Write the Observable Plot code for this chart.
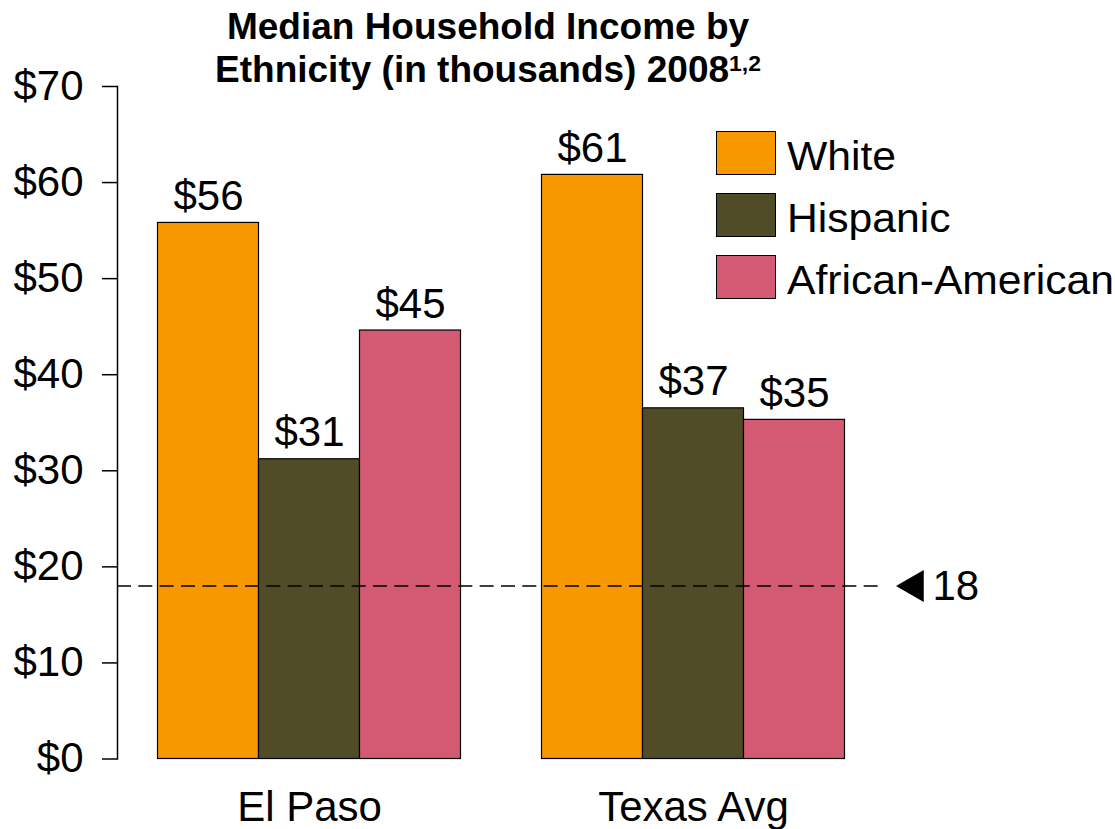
<!DOCTYPE html>
<html>
<head>
<meta charset="utf-8">
<script src="https://cdn.jsdelivr.net/npm/d3@7"></script>
<script src="https://cdn.jsdelivr.net/npm/@observablehq/plot@0.6"></script>
<style>
  html, body { margin: 0; padding: 0; background: #fff; }
  #wrap { position: relative; width: 1115px; height: 829px; font-family: "Liberation Sans", Arial, sans-serif; color: #000; }
  #title { position: absolute; top: 5px; left: 488px; transform: translateX(-50%); white-space: nowrap;
           font-weight: bold; font-size: 37px; line-height: 43px; text-align: center; }
  #title sup { font-size: 0.62em; line-height: 0; vertical-align: 0.5em; }
  #legend { position: absolute; left: 716px; top: 131px; }
  .row { display: flex; align-items: flex-start; height: 62px; }
  .sw { width: 58px; height: 42px; border: 1.5px solid #000; box-sizing: content-box; }
  .lab { font-size: 40px; line-height: 45px; margin-left: 11px; padding-top: 3px; white-space: nowrap;
         transform: scaleX(1.066); transform-origin: left center; }
  #chart { position: absolute; left: 0; top: 0; }
</style>
</head>
<body>
<div id="wrap">
  <div id="chart"></div>
  <div id="title"></div>
  <div id="legend"></div>
</div>
<script>
const titleLines = ["Median Household Income by", "Ethnicity (in thousands) 2008"];
const titleSup = "1,2";
const groups = ["El Paso", "Texas Avg"];
const ethnicities = ["White", "Hispanic", "African-American"];
const colors = ["#F89800", "#504C28", "#D35A72"];
const elPaso = [55.8, 31.2, 44.6];
const texasAvg = [60.8, 36.5, 35.3];
const yTicks = [0, 10, 20, 30, 40, 50, 60, 70];
const refValue = 18;

const data = [];
ethnicities.forEach((e, i) => {
  data.push({group: groups[0], ethnicity: e, value: elPaso[i]});
  data.push({group: groups[1], ethnicity: e, value: texasAvg[i]});
});
const refRule = groups.map(g => ({group: g, value: refValue}));
const refMarker = [{group: groups[groups.length - 1], value: refValue}];

// title
const t = document.getElementById("title");
t.innerHTML = titleLines[0] + "<br>" + titleLines[1] + "<sup>" + titleSup + "</sup>";

// legend
const lg = document.getElementById("legend");
ethnicities.forEach((e, i) => {
  const row = document.createElement("div");
  row.className = "row";
  const sw = document.createElement("div");
  sw.className = "sw";
  sw.style.background = colors[i];
  const lab = document.createElement("div");
  lab.className = "lab";
  lab.textContent = e;
  row.appendChild(sw); row.appendChild(lab);
  lg.appendChild(row);
});

const FS = 42;
const chart = Plot.plot({
  width: 1115,
  height: 829,
  marginLeft: 116.5,
  marginRight: 230.5,
  marginTop: 86,
  marginBottom: 70.5,
  style: {fontFamily: "'Liberation Sans', Arial, sans-serif", fontSize: FS + "px", color: "#000", background: "transparent", overflow: "visible"},
  fx: {domain: groups, padding: 0, label: null},
  x: {domain: ethnicities, paddingInner: 0, paddingOuter: 0.4, axis: null},
  y: {domain: [0, 70], label: null},
  color: {domain: ethnicities, range: colors},
  marks: [
    Plot.barY(data, {fx: "group", x: "ethnicity", y: "value", fill: "ethnicity", stroke: "#000", strokeWidth: 1.2}),
    Plot.text(data, {fx: "group", x: "ethnicity", y: "value", text: d => "$" + Math.round(d.value), lineAnchor: "bottom", dy: -13, fontSize: FS}),
    Plot.frame({anchor: "left", facet: "super", stroke: "#000", strokeWidth: 1.5}),
    Plot.axisY({ticks: yTicks, tickFormat: d => "$" + d, tickSize: 15, tickPadding: 19, fontSize: FS, label: null, strokeWidth: 1.5}),
    Plot.axisFx({anchor: "bottom", tickSize: 0, tickPadding: 32, fontSize: FS, label: null}),
    Plot.ruleY(refRule, {fx: "group", y: "value", stroke: "#000", strokeWidth: 1.5, strokeDasharray: "14,7.333"}),
    Plot.dot(refMarker, {fx: "group", y: "value", frameAnchor: "right", dx: 29, symbol: "triangle", r: 11.9, rotate: -90, fill: "#000", stroke: "none"}),
    Plot.text(refMarker, {fx: "group", y: "value", frameAnchor: "right", dx: 47, text: d => String(d.value), textAnchor: "start", lineAnchor: "middle", fontSize: FS})
  ]
});
document.getElementById("chart").appendChild(chart);
</script>
</body>
</html>
